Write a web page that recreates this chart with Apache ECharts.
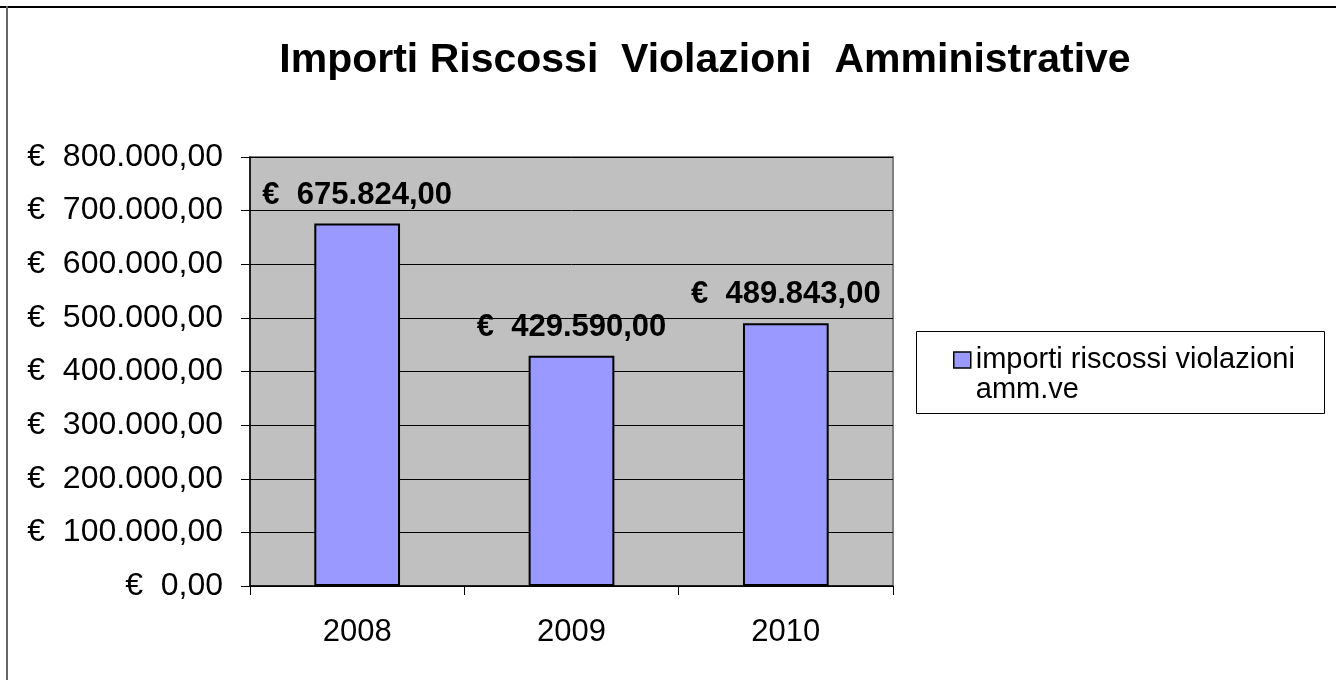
<!DOCTYPE html>
<html>
<head>
<meta charset="utf-8">
<script src="https://cdn.jsdelivr.net/npm/echarts@6/dist/echarts.min.js"></script>
<style>
html,body{margin:0;padding:0;background:#fff;}
#chart{width:1336px;height:680px;}
</style>
</head>
<body>
<div id="chart"></div>
<script>
const titleText = 'Importi Riscossi  Violazioni  Amministrative';
const categories = ['2008', '2009', '2010'];
const seriesName = 'importi riscossi violazioni amm.ve';
const values = [675824, 429590, 489843];
const yMin = 0, yMax = 800000, yStep = 100000;

function euro(v, gap) {
  const s = Math.abs(v).toFixed(2).split('.');
  const intPart = s[0].replace(/\B(?=(\d{3})+(?!\d))/g, '.');
  return '€' + gap + intPart + ',' + s[1];
}

const FONT = '"Liberation Sans", Arial, sans-serif';
const chart = echarts.init(document.getElementById('chart'), null, {renderer: 'canvas'});
chart.setOption({
  animation: false,
  backgroundColor: '#fff',
  title: {
    text: titleText,
    left: 705, top: 40, textAlign: 'center', padding: 0,
    textStyle: {fontFamily: FONT, fontSize: 41, fontWeight: 'bold', color: '#000'}
  },
  grid: {
    left: 250, top: 157, right: 443, bottom: 94,
    show: true, backgroundColor: '#c0c0c0', borderColor: '#808080', borderWidth: 2
  },
  legend: {
    left: 948, top: 310,
    itemWidth: 17, itemHeight: 16, itemGap: 0,
    icon: 'rect',
    itemStyle: {borderColor: '#000', borderWidth: 1.5},
    formatter: function () { return '\nimporti riscossi violazioni\namm.ve'; },
    textStyle: {fontFamily: FONT, fontSize: 29, color: '#000', lineHeight: 30},
    data: [seriesName]
  },
  graphic: [
    {type: 'rect', shape: {x: 916.5, y: 331.5, width: 408, height: 82},
     style: {fill: null, stroke: '#000', lineWidth: 1}, z: -1},
    {type: 'line', shape: {x1: 0, y1: 7, x2: 1336, y2: 7},
     style: {stroke: '#000', lineWidth: 2}},
    {type: 'line', shape: {x1: 7, y1: 6, x2: 7, y2: 680},
     style: {stroke: '#666', lineWidth: 2}}
  ],
  xAxis: {
    type: 'category', data: categories,
    axisLine: {show: true, lineStyle: {color: '#000', width: 1.5}},
    axisTick: {show: true, length: 9, lineStyle: {color: '#000'}},
    axisLabel: {fontFamily: FONT, fontSize: 31, color: '#000', margin: 31},
    splitLine: {show: false}
  },
  yAxis: {
    type: 'value', min: yMin, max: yMax, interval: yStep,
    axisLine: {show: true, lineStyle: {color: '#000', width: 1.5}},
    axisTick: {show: true, length: 9, lineStyle: {color: '#000'}},
    axisLabel: {fontFamily: FONT, fontSize: 32, color: '#000', margin: 27,
      formatter: function (v) { return euro(v, '  '); }},
    splitLine: {show: true, lineStyle: {color: '#000', width: 1}}
  },
  series: [{
    name: seriesName, type: 'bar', data: values, barWidth: '40%',
    itemStyle: {color: '#9999ff', borderColor: '#000', borderWidth: 2},
    label: {
      show: true, position: 'top', distance: 13,
      fontFamily: FONT, fontSize: 31, fontWeight: 'bold', color: '#000',
      formatter: function (p) { return euro(p.value, '  '); }
    }
  }]
});
</script>
</body>
</html>
